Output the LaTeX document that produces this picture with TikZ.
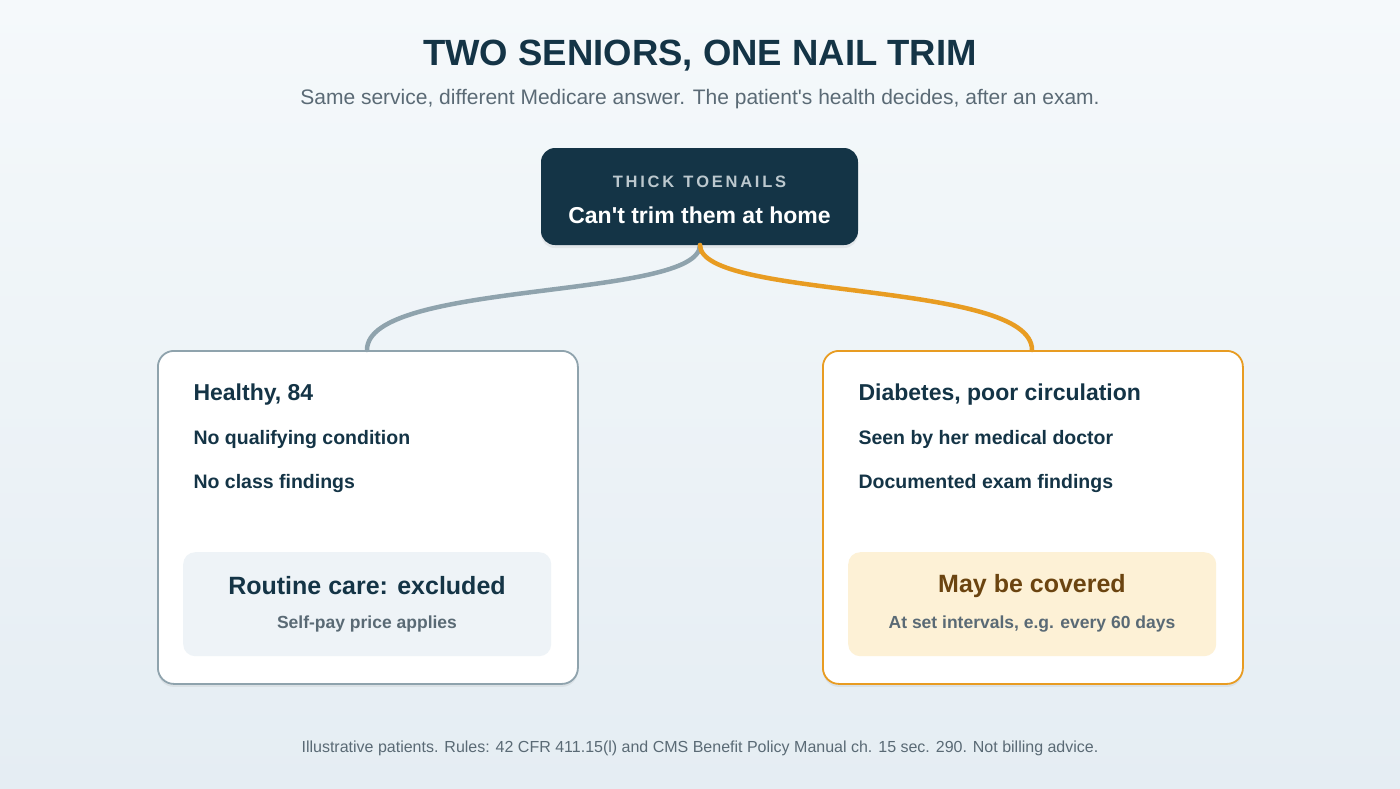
\documentclass[tikz,border=0pt]{standalone}
\usepackage{fontspec}
\setmainfont{Liberation Sans}
\usetikzlibrary{shadows}
\definecolor{navy}{HTML}{143446}
\definecolor{sub}{HTML}{5A6A75}
\definecolor{gline}{HTML}{8FA3AD}
\definecolor{oline}{HTML}{E89C22}
\definecolor{ginner}{HTML}{EEF3F7}
\definecolor{oinner}{HTML}{FDF1D6}
\definecolor{brown}{HTML}{6B4410}
\definecolor{bgtop}{HTML}{F5F9FB}
\definecolor{bgbot}{HTML}{E5EDF3}
\begin{document}
\begin{tikzpicture}[x=1pt,y=-1pt,
  card/.style={draw=#1,line width=1.8pt,fill=white,rounded corners=16pt,minimum width=420pt,minimum height=333pt,anchor=north west,drop shadow={shadow xshift=0pt,shadow yshift=-3pt,opacity=0.12}},
  inner/.style={fill=#1,rounded corners=12pt,minimum width=368pt,minimum height=104pt,anchor=north west},
  head/.style={font=\bfseries\fontsize{23}{26}\selectfont,text=navy,anchor=west},
  item/.style={font=\bfseries\fontsize{19.5}{23}\selectfont,text=navy,anchor=west},
  conn/.style={line width=4.5pt,line cap=round}]
\shade[top color=bgtop,bottom color=bgbot] (0,0) rectangle (1400,788);
\useasboundingbox (0,0) rectangle (1400,788);
\node[font=\bfseries\fontsize{36.5}{40}\selectfont,text=navy] (title) at (700,56) {TWO SENIORS, ONE NAIL TRIM};
\node[font=\fontsize{21}{25}\selectfont,text=sub] (subtitle) at (700,99) {Same service, different Medicare answer. The patient\textquotesingle s health decides, after an exam.};
\node[fill=navy,rounded corners=14pt,minimum width=317pt,minimum height=97pt,drop shadow={shadow xshift=0pt,shadow yshift=-3pt,opacity=0.12}] (top) at (699.5,196.5) {};
\node[font=\bfseries\fontsize{16.5}{19}\selectfont,text=gline!60!white] (tl1) at (699.5,182) {T\,H\,I\,C\,K\ \ T\,O\,E\,N\,A\,I\,L\,S};
\node[font=\bfseries\fontsize{23}{27}\selectfont,text=white] (tl2) at (699.5,215) {Can\textquotesingle t trim them at home};
\node[card=gline] (L) at (157,350) {};
\node[card=oline] (R) at (822,350) {};
\coordinate (ls) at (367,350);
\coordinate (rs) at (1032,350);
\coordinate (ts) at (700,245);
\draw[conn,gline] (ts) .. controls (700,300) and (367,280) .. (ls);
\draw[conn,oline] (ts) .. controls (700,300) and (1032,280) .. (rs);
\node[head] (l1) at (190,395) {Healthy, 84};
\node[item] (l2) at (190,439) {No qualifying condition};
\node[item] (l3) at (190,483) {No class findings};
\node[head] (r1) at (855,395) {Diabetes, poor circulation};
\node[item] (r2) at (855,439) {Seen by her medical doctor};
\node[item] (r3) at (855,483) {Documented exam findings};
\node[inner=ginner] (li) at (183,552) {};
\node[inner=oinner] (ri) at (848,552) {};
\node[font=\bfseries\fontsize{25}{29}\selectfont,text=navy] (lt) at (367,586) {Routine care: excluded};
\node[font=\bfseries\fontsize{17.5}{21}\selectfont,text=sub] (ls2) at (367,624) {Self-pay price applies};
\node[font=\bfseries\fontsize{25}{29}\selectfont,text=brown] (rt) at (1032,586) {May be covered};
\node[font=\bfseries\fontsize{17.5}{21}\selectfont,text=sub] (rs2) at (1032,624) {At set intervals, e.g. every 60 days};
\node[font=\fontsize{16}{19}\selectfont,text=sub] (foot) at (700,748) {Illustrative patients. Rules: 42 CFR 411.15(l) and CMS Benefit Policy Manual ch. 15 sec. 290. Not billing advice.};
\end{tikzpicture}
\end{document}
